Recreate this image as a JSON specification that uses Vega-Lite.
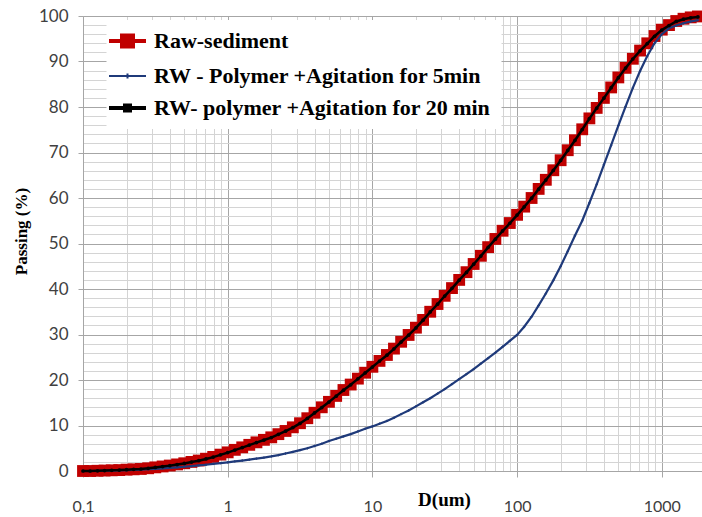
{
  "$schema": "https://vega.github.io/schema/vega-lite/v6.json",
  "width": 619,
  "height": 455,
  "autosize": {"type": "none"},
  "padding": {"left": 83, "top": 16, "right": 0, "bottom": 46},
  "background": "white",
  "config": {"view": {"stroke": null}, "font": "Lato"},
  "data": {
    "values": [
      {"D": 0.1, "raw": 0, "p5": 0, "p20": 0},
      {"D": 0.112, "raw": 0, "p5": 0, "p20": 0},
      {"D": 0.126, "raw": 0.05, "p5": 0.02, "p20": 0.05},
      {"D": 0.141, "raw": 0.1, "p5": 0.05, "p20": 0.1},
      {"D": 0.158, "raw": 0.15, "p5": 0.08, "p20": 0.15},
      {"D": 0.178, "raw": 0.2, "p5": 0.12, "p20": 0.2},
      {"D": 0.2, "raw": 0.3, "p5": 0.17, "p20": 0.3},
      {"D": 0.224, "raw": 0.37, "p5": 0.23, "p20": 0.36},
      {"D": 0.251, "raw": 0.45, "p5": 0.3, "p20": 0.44},
      {"D": 0.282, "raw": 0.6, "p5": 0.38, "p20": 0.58},
      {"D": 0.316, "raw": 0.8, "p5": 0.47, "p20": 0.78},
      {"D": 0.355, "raw": 1.0, "p5": 0.57, "p20": 0.98},
      {"D": 0.398, "raw": 1.2, "p5": 0.68, "p20": 1.18},
      {"D": 0.447, "raw": 1.45, "p5": 0.8, "p20": 1.42},
      {"D": 0.501, "raw": 1.7, "p5": 0.93, "p20": 1.67},
      {"D": 0.562, "raw": 2.0, "p5": 1.07, "p20": 1.96},
      {"D": 0.631, "raw": 2.3, "p5": 1.22, "p20": 2.26},
      {"D": 0.708, "raw": 2.7, "p5": 1.38, "p20": 2.65},
      {"D": 0.794, "raw": 3.1, "p5": 1.55, "p20": 3.05},
      {"D": 0.891, "raw": 3.6, "p5": 1.72, "p20": 3.55},
      {"D": 1, "raw": 4.1, "p5": 1.9, "p20": 4.05},
      {"D": 1.12, "raw": 4.65, "p5": 2.1, "p20": 4.6},
      {"D": 1.26, "raw": 5.2, "p5": 2.3, "p20": 5.15},
      {"D": 1.41, "raw": 5.75, "p5": 2.5, "p20": 5.7},
      {"D": 1.58, "raw": 6.3, "p5": 2.72, "p20": 6.25},
      {"D": 1.78, "raw": 6.85, "p5": 2.95, "p20": 6.8},
      {"D": 2.0, "raw": 7.4, "p5": 3.2, "p20": 7.35},
      {"D": 2.24, "raw": 8.1, "p5": 3.5, "p20": 8.05},
      {"D": 2.51, "raw": 8.8, "p5": 3.85, "p20": 8.75},
      {"D": 2.82, "raw": 9.6, "p5": 4.2, "p20": 9.55},
      {"D": 3.16, "raw": 10.5, "p5": 4.6, "p20": 10.45},
      {"D": 3.55, "raw": 11.6, "p5": 5.0, "p20": 11.55},
      {"D": 3.98, "raw": 12.8, "p5": 5.5, "p20": 12.75},
      {"D": 4.47, "raw": 14.0, "p5": 6.0, "p20": 13.95},
      {"D": 5.01, "raw": 15.2, "p5": 6.6, "p20": 15.15},
      {"D": 5.62, "raw": 16.5, "p5": 7.1, "p20": 16.45},
      {"D": 6.31, "raw": 17.8, "p5": 7.6, "p20": 17.75},
      {"D": 7.08, "raw": 19.0, "p5": 8.1, "p20": 18.95},
      {"D": 7.94, "raw": 20.3, "p5": 8.7, "p20": 20.25},
      {"D": 8.91, "raw": 21.6, "p5": 9.3, "p20": 21.55},
      {"D": 10, "raw": 22.9, "p5": 9.8, "p20": 22.85},
      {"D": 11.2, "raw": 24.2, "p5": 10.4, "p20": 24.15},
      {"D": 12.6, "raw": 25.5, "p5": 11.0, "p20": 25.45},
      {"D": 14.1, "raw": 26.9, "p5": 11.7, "p20": 26.85},
      {"D": 15.8, "raw": 28.4, "p5": 12.5, "p20": 28.35},
      {"D": 17.8, "raw": 29.9, "p5": 13.3, "p20": 29.85},
      {"D": 20, "raw": 31.5, "p5": 14.2, "p20": 31.45},
      {"D": 22.4, "raw": 33.2, "p5": 15.1, "p20": 33.15},
      {"D": 25.1, "raw": 35.0, "p5": 16.0, "p20": 34.95},
      {"D": 28.2, "raw": 36.7, "p5": 17.0, "p20": 36.65},
      {"D": 31.6, "raw": 38.5, "p5": 18.0, "p20": 38.45},
      {"D": 35.5, "raw": 40.2, "p5": 19.1, "p20": 40.15},
      {"D": 39.8, "raw": 42.0, "p5": 20.2, "p20": 41.95},
      {"D": 44.7, "raw": 43.7, "p5": 21.3, "p20": 43.65},
      {"D": 50.1, "raw": 45.5, "p5": 22.4, "p20": 45.45},
      {"D": 56.2, "raw": 47.3, "p5": 23.6, "p20": 47.25},
      {"D": 63.1, "raw": 49.2, "p5": 24.8, "p20": 49.15},
      {"D": 70.8, "raw": 51.0, "p5": 26.0, "p20": 50.95},
      {"D": 79.4, "raw": 52.8, "p5": 27.3, "p20": 52.75},
      {"D": 89.1, "raw": 54.5, "p5": 28.6, "p20": 54.45},
      {"D": 100, "raw": 56.3, "p5": 29.9, "p20": 56.25},
      {"D": 112, "raw": 58.1, "p5": 31.7, "p20": 58.05},
      {"D": 126, "raw": 60.0, "p5": 33.9, "p20": 59.95},
      {"D": 141, "raw": 62.0, "p5": 36.4, "p20": 61.95},
      {"D": 158, "raw": 64.0, "p5": 39.0, "p20": 63.95},
      {"D": 178, "raw": 66.1, "p5": 41.9, "p20": 66.05},
      {"D": 200, "raw": 68.3, "p5": 45.0, "p20": 68.25},
      {"D": 224, "raw": 70.5, "p5": 48.3, "p20": 70.45},
      {"D": 251, "raw": 72.7, "p5": 51.7, "p20": 72.65},
      {"D": 282, "raw": 75.1, "p5": 55.0, "p20": 75.05},
      {"D": 316, "raw": 77.5, "p5": 58.9, "p20": 77.45},
      {"D": 355, "raw": 79.8, "p5": 63.0, "p20": 79.75},
      {"D": 398, "raw": 82.0, "p5": 67.3, "p20": 81.95},
      {"D": 447, "raw": 84.3, "p5": 71.6, "p20": 84.25},
      {"D": 501, "raw": 86.5, "p5": 75.9, "p20": 86.45},
      {"D": 562, "raw": 88.6, "p5": 80.1, "p20": 88.55},
      {"D": 631, "raw": 90.6, "p5": 84.2, "p20": 90.55},
      {"D": 708, "raw": 92.4, "p5": 87.9, "p20": 92.35},
      {"D": 794, "raw": 94.0, "p5": 91.2, "p20": 93.95},
      {"D": 891, "raw": 95.6, "p5": 94.0, "p20": 95.55},
      {"D": 1000, "raw": 97.0, "p5": 96.0, "p20": 96.9},
      {"D": 1122, "raw": 98.0, "p5": 97.3, "p20": 97.9},
      {"D": 1259, "raw": 98.9, "p5": 97.9, "p20": 98.8},
      {"D": 1413, "raw": 99.4, "p5": 98.4, "p20": 99.3},
      {"D": 1585, "raw": 99.7, "p5": 98.8, "p20": 99.6},
      {"D": 1778, "raw": 99.9, "p5": 99.1, "p20": 99.8}
    ]
  },
  "transform": [{"fold": ["raw", "p5", "p20"], "as": ["series", "pct"]}],
  "resolve": {"axis": {"x": "independent", "y": "independent"}},
  "layer": [
    {
      "mark": {"type": "point", "opacity": 0},
      "encoding": {
        "x": {"field": "D", "type": "quantitative",
          "scale": {"type": "log", "domain": [0.1, 1897], "nice": false},
          "axis": {"orient": "bottom", "values": [0.2,0.3,0.4,0.5,0.6,0.7,0.8,0.9,2,3,4,5,6,7,8,9,20,30,40,50,60,70,80,90,200,300,400,500,600,700,800,900],
            "grid": true, "gridColor": "#d4d4d4", "gridWidth": 1, "labels": false, "ticks": false, "domain": false, "title": null}},
        "y": {"field": "pct", "type": "quantitative",
          "scale": {"domain": [0, 100], "nice": false},
          "axis": {"orient": "left", "values": [2,4,6,8,12,14,16,18,22,24,26,28,32,34,36,38,42,44,46,48,52,54,56,58,62,64,66,68,72,74,76,78,82,84,86,88,92,94,96,98],
            "grid": true, "gridColor": "#d4d4d4", "gridWidth": 1, "labels": false, "ticks": false, "domain": false, "title": null}}
      }
    },
    {
      "transform": [{"filter": "datum.series === 'raw'"}],
      "mark": {"type": "line", "strokeWidth": 3},
      "encoding": {
        "x": {"field": "D", "type": "quantitative",
          "scale": {"type": "log", "domain": [0.1, 1897], "nice": false},
          "axis": {"orient": "bottom", "values": [0.1, 1, 10, 100, 1000], "grid": true, "gridColor": "#a6a6a6",
            "domainColor": "#a6a6a6", "tickColor": "#a6a6a6", "tickSize": 6, "labelFlush": false, "labelOverlap": false,
            "labelExpr": "datum.value < 1 ? '0,1' : format(datum.value, 'd')",
            "labelFont": "Lato", "labelFontSize": 16, "labelColor": "#404040", "labelPadding": 21,
            "title": "D(um)", "titleFont": "Liberation Serif", "titleFontWeight": "bold", "titleFontSize": 19,
            "titleColor": "black", "titleX": 361, "titleY": 34, "titleAlign": "center", "titleBaseline": "alphabetic"}},
        "y": {"field": "pct", "type": "quantitative",
          "scale": {"domain": [0, 100], "nice": false},
          "axis": {"orient": "left", "values": [0,10,20,30,40,50,60,70,80,90,100], "grid": true, "gridColor": "#a6a6a6",
            "domainColor": "#a6a6a6", "tickColor": "#a6a6a6", "tickSize": 5, "labelFlush": false,
            "labelFont": "Lato", "labelFontSize": 17, "labelColor": "#404040", "labelPadding": 10,
            "title": "Passing (%)", "titleFont": "Liberation Serif", "titleFontWeight": "bold", "titleFontSize": 17,
            "titleColor": "black", "titleX": -62, "titleY": 215, "titleAngle": -90, "titleAlign": "center", "titleBaseline": "middle"}},
        "color": {"field": "series", "type": "nominal",
          "scale": {"domain": ["raw", "p5", "p20"], "range": ["#C00000", "#1F3A7A", "#000000"]},
          "legend": {
            "orient": "none", "legendX": 23.5, "legendY": 4, "title": null, "padding": 10,
            "fillColor": "white", "labelLimit": 400,
            "labelFont": "Liberation Serif", "labelFontWeight": "bold", "labelFontSize": 22, "labelColor": "black",
            "labelOffset": 15.5, "symbolSize": 400, "rowPadding": 10, "symbolStrokeWidth": 4,
            "labelExpr": "datum.value === 'raw' ? 'Raw-sediment' : datum.value === 'p5' ? 'RW - Polymer +Agitation for 5min' : 'RW- polymer +Agitation for 20 min'",
            "encode": {"symbols": {"update": {
              "shape": {"signal": "datum.value === 'raw' ? 'M-1.85,0H1.85M-0.55,-0.55H0.55V0.55H-0.55Z' : datum.value === 'p5' ? 'M-1.85,0H1.85M0,-0.25V0.25' : 'M-1.85,0H1.85M-0.25,-0.25H0.25V0.25H-0.25Z'"},
              "fill": {"signal": "scale('color', datum.value)"},
              "strokeWidth": {"signal": "datum.value === 'p5' ? 2 : 4"},
              "opacity": {"value": 1}
            }}}
          }}
      }
    },
    {
      "transform": [{"filter": "datum.series === 'raw'"}],
      "mark": {"type": "point", "shape": "square", "filled": true, "size": 140, "color": "#C00000", "opacity": 1},
      "encoding": {
        "x": {"field": "D", "type": "quantitative", "scale": {"type": "log", "domain": [0.1, 1897], "nice": false}, "axis": null},
        "y": {"field": "pct", "type": "quantitative", "scale": {"domain": [0, 100], "nice": false}, "axis": null}
      }
    },
    {
      "transform": [{"filter": "datum.series === 'p5'"}],
      "mark": {"type": "line", "strokeWidth": 2.2, "color": "#1F3A7A"},
      "encoding": {
        "x": {"field": "D", "type": "quantitative", "scale": {"type": "log", "domain": [0.1, 1897], "nice": false}, "axis": null},
        "y": {"field": "pct", "type": "quantitative", "scale": {"domain": [0, 100], "nice": false}, "axis": null}
      }
    },
    {
      "transform": [{"filter": "datum.series === 'p5'"}],
      "mark": {"type": "point", "shape": "diamond", "filled": true, "size": 8, "color": "#1F3A7A", "opacity": 1},
      "encoding": {
        "x": {"field": "D", "type": "quantitative", "scale": {"type": "log", "domain": [0.1, 1897], "nice": false}, "axis": null},
        "y": {"field": "pct", "type": "quantitative", "scale": {"domain": [0, 100], "nice": false}, "axis": null}
      }
    },
    {
      "transform": [{"filter": "datum.series === 'p20'"}],
      "mark": {"type": "line", "strokeWidth": 2.5, "color": "#000000"},
      "encoding": {
        "x": {"field": "D", "type": "quantitative", "scale": {"type": "log", "domain": [0.1, 1897], "nice": false}, "axis": null},
        "y": {"field": "pct", "type": "quantitative", "scale": {"domain": [0, 100], "nice": false}, "axis": null}
      }
    },
    {
      "transform": [{"filter": "datum.series === 'p20'"}],
      "mark": {"type": "point", "shape": "circle", "filled": true, "size": 14, "color": "#000000", "opacity": 1},
      "encoding": {
        "x": {"field": "D", "type": "quantitative", "scale": {"type": "log", "domain": [0.1, 1897], "nice": false}, "axis": null},
        "y": {"field": "pct", "type": "quantitative", "scale": {"domain": [0, 100], "nice": false}, "axis": null}
      }
    }
  ]
}
